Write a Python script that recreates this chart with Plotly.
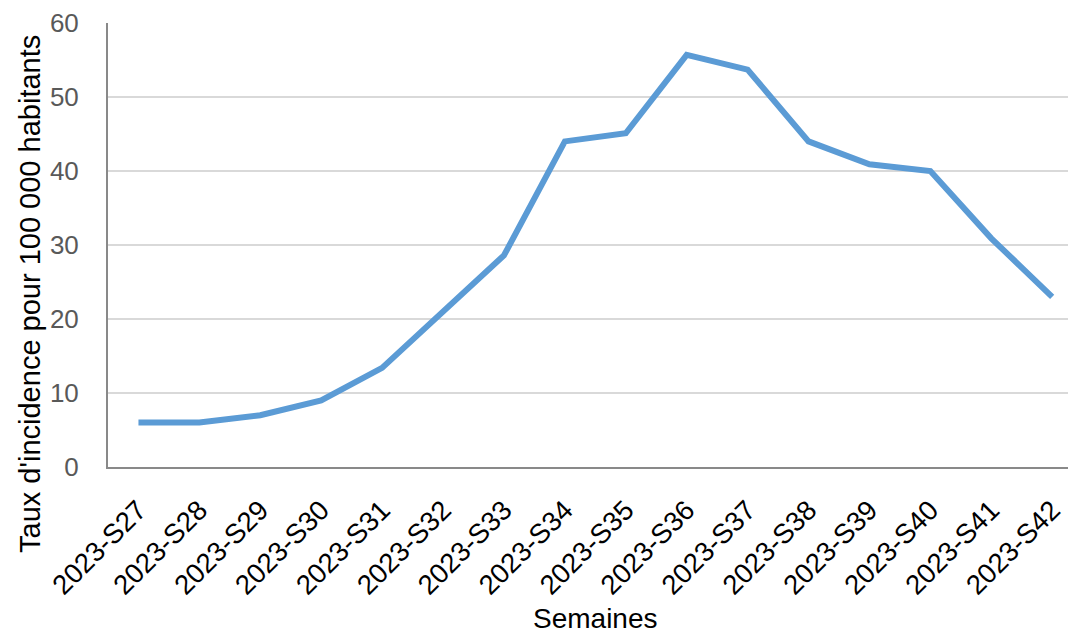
import plotly.graph_objects as go

weeks = ["2023-S27", "2023-S28", "2023-S29", "2023-S30", "2023-S31", "2023-S32",
         "2023-S33", "2023-S34", "2023-S35", "2023-S36", "2023-S37", "2023-S38",
         "2023-S39", "2023-S40", "2023-S41", "2023-S42"]
incidence = [6.0, 6.0, 7.0, 9.0, 13.4, 21.0, 28.6, 44.0, 45.1, 55.7, 53.7, 44.0,
             40.9, 40.0, 30.9, 23.0]
y_ticks = [0, 10, 20, 30, 40, 50, 60]

L, R, T, B = 108, 0, 23, 167
W, H = 1068, 634
pw, ph = W - L - R, H - T - B

fig = go.Figure()
fig.add_trace(go.Scatter(
    x=list(range(len(weeks))), y=incidence, mode="lines",
    line=dict(color="#5b9bd5", width=6),
    hoverinfo="skip", showlegend=False,
))

fig.update_layout(
    width=W, height=H,
    margin=dict(l=L, r=R, t=T, b=B, autoexpand=False),
    paper_bgcolor="white", plot_bgcolor="white",
    font=dict(family="Liberation Sans, Arial, sans-serif", color="black"),
    xaxis=dict(
        tickmode="array", tickvals=list(range(len(weeks))), ticktext=weeks,
        tickangle=-45, range=[-0.5, 15.26], automargin=False,
        tickfont=dict(size=27.5, color="black"),
        showgrid=False, showline=True, linecolor="#898989", linewidth=2,
        ticks="", zeroline=False, ticklabelstandoff=14,
    ),
    yaxis=dict(
        range=[0, 60], tickvals=y_ticks, automargin=False,
        tickfont=dict(size=26, color="#595959"),
        showgrid=True, gridcolor="#d9d9d9", gridwidth=2,
        showline=True, linecolor="#898989", linewidth=2,
        ticks="", zeroline=False, ticklabelstandoff=22,
    ),
    annotations=[
        dict(text="Taux d'incidence pour 100 000 habitants", textangle=-90,
             xref="paper", yref="paper",
             x=(30 - L) / pw, y=(H - B - 294) / ph,
             xanchor="center", yanchor="middle", showarrow=False,
             font=dict(size=29, color="black")),
        dict(text="Semaines", xref="paper", yref="paper",
             x=(595 - L) / pw, y=(H - B - 618) / ph,
             xanchor="center", yanchor="middle", showarrow=False,
             font=dict(size=28, color="black")),
    ],
)

fig.write_html("out.html", config={"displayModeBar": False},
               post_script="document.body.style.margin='0';document.body.style.overflow='hidden';")
